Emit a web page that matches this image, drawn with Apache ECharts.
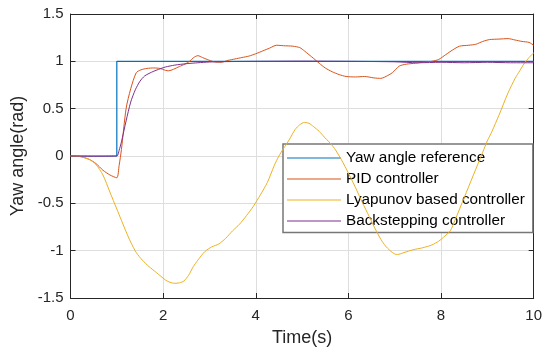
<!DOCTYPE html>
<html>
<head>
<meta charset="utf-8">
<script src="https://cdn.jsdelivr.net/npm/echarts@6/dist/echarts.min.js"></script>
<style>
html,body{margin:0;padding:0;background:#fff;}
#chart{width:545px;height:352px;}
</style>
</head>
<body>
<div id="chart"></div>
<script>
var seriesNames = ['Yaw angle reference', 'PID controller', 'Lyapunov based controller', 'Backstepping controller'];
var xTicks = [0, 2, 4, 6, 8, 10];
var yTicks = [-1.5, -1, -0.5, 0, 0.5, 1, 1.5];

var refData = [[0,0],[1,0],[1,1],[10,1]];

var pidData = [[0,0],[0.2,-0.005],[0.4,-0.035],[0.55,-0.08],[0.7,-0.15],[0.85,-0.2],[1.0,-0.23],[1.05,-0.1],[1.1,0.07],[1.2,0.5],[1.3,0.71],[1.42,0.88],[1.52,0.91],[1.65,0.925],[1.8,0.93],[1.93,0.925],[2.05,0.905],[2.12,0.9],[2.22,0.915],[2.35,0.945],[2.47,0.97],[2.57,1.0],[2.66,1.04],[2.75,1.06],[2.85,1.04],[2.95,1.02],[3.1,0.995],[3.25,0.99],[3.4,1.01],[3.55,1.025],[3.7,1.04],[3.85,1.055],[4.0,1.08],[4.15,1.11],[4.3,1.14],[4.45,1.17],[4.6,1.165],[4.8,1.16],[4.95,1.145],[5.05,1.11],[5.15,1.07],[5.25,1.03],[5.37,0.98],[5.5,0.93],[5.65,0.89],[5.8,0.86],[5.95,0.84],[6.15,0.835],[6.35,0.84],[6.55,0.825],[6.7,0.82],[6.85,0.85],[6.95,0.88],[7.1,0.95],[7.25,0.97],[7.45,0.98],[7.6,0.99],[7.8,1.0],[7.95,1.02],[8.1,1.07],[8.25,1.12],[8.4,1.16],[8.6,1.17],[8.75,1.18],[8.9,1.21],[9.05,1.23],[9.25,1.235],[9.45,1.24],[9.6,1.225],[9.75,1.21],[9.9,1.2],[10,1.17]];

var lyapData = [[0,0],[0.2,-0.005],[0.4,-0.035],[0.55,-0.09],[0.7,-0.2],[0.85,-0.38],[1.0,-0.56],[1.1,-0.68],[1.2,-0.8],[1.3,-0.91],[1.42,-1.02],[1.55,-1.1],[1.7,-1.17],[1.85,-1.23],[1.95,-1.27],[2.05,-1.31],[2.15,-1.335],[2.25,-1.345],[2.35,-1.34],[2.45,-1.32],[2.55,-1.26],[2.65,-1.17],[2.75,-1.1],[2.9,-1.01],[3.05,-0.96],[3.2,-0.93],[3.35,-0.87],[3.5,-0.79],[3.65,-0.72],[3.8,-0.63],[3.95,-0.53],[4.1,-0.41],[4.25,-0.28],[4.4,-0.1],[4.5,0.0],[4.6,0.08],[4.72,0.17],[4.85,0.28],[4.95,0.33],[5.05,0.355],[5.15,0.345],[5.25,0.31],[5.37,0.26],[5.48,0.2],[5.58,0.15],[5.7,0.08],[5.85,-0.04],[6.0,-0.18],[6.15,-0.33],[6.3,-0.49],[6.45,-0.64],[6.58,-0.77],[6.7,-0.88],[6.8,-0.95],[6.9,-1.0],[7.0,-1.035],[7.06,-1.04],[7.2,-1.02],[7.4,-0.99],[7.6,-0.97],[7.8,-0.94],[7.95,-0.9],[8.05,-0.86],[8.2,-0.79],[8.3,-0.68],[8.5,-0.44],[8.7,-0.2],[8.9,0.04],[9.0,0.16],[9.1,0.26],[9.25,0.43],[9.45,0.67],[9.6,0.82],[9.7,0.9],[9.8,0.98],[9.9,1.04],[10,1.09]];

var backData = [[0,0],[0.5,-0.003],[1.0,0],[1.05,0.06],[1.1,0.15],[1.2,0.37],[1.3,0.57],[1.4,0.7],[1.5,0.79],[1.6,0.845],[1.75,0.885],[1.9,0.915],[2.05,0.94],[2.25,0.96],[2.5,0.975],[2.75,0.985],[3.0,0.993],[3.5,0.998],[4.0,1.0],[5.0,1.002],[6.0,1.0],[7.0,0.995],[7.5,0.985],[8.0,0.99],[8.5,0.985],[9.0,0.99],[9.5,0.985],[10,0.985]];

var colors = ['#0072BD', '#D95319', '#EDB120', '#7E2F8E'];
var FONT = '"Liberation Sans", Arial, sans-serif';
var AX = '#262626';

var chart = echarts.init(document.getElementById('chart'), null, {renderer: 'canvas'});

function mkX(idx, pos, labels) {
  return {
    type: 'value', gridIndex: 0, position: pos,
    min: xTicks[0], max: xTicks[xTicks.length - 1], interval: xTicks[1] - xTicks[0],
    axisLine: {show: true, onZero: false, lineStyle: {color: AX, width: 1}},
    axisTick: {show: true, inside: true, length: 5, lineStyle: {color: AX}},
    axisLabel: {show: labels, margin: 10, color: AX, fontSize: 15, fontFamily: FONT},
    splitLine: {show: labels, lineStyle: {color: '#dedede', width: 1}},
    name: labels ? 'Time(s)' : '', nameLocation: 'middle', nameGap: 31,
    nameTextStyle: {color: AX, fontSize: 18, fontFamily: FONT}
  };
}
function mkY(idx, pos, labels) {
  return {
    type: 'value', gridIndex: 0, position: pos,
    min: yTicks[0], max: yTicks[yTicks.length - 1], interval: yTicks[1] - yTicks[0],
    axisLine: {show: true, onZero: false, lineStyle: {color: AX, width: 1}},
    axisTick: {show: true, inside: true, length: 5, lineStyle: {color: AX}},
    axisLabel: {show: labels, margin: 7, color: AX, fontSize: 15, fontFamily: FONT},
    splitLine: {show: labels, lineStyle: {color: '#dedede', width: 1}},
    name: labels ? 'Yaw angle(rad)' : '', nameLocation: 'middle', nameGap: 43,
    nameTextStyle: {color: AX, fontSize: 18, fontFamily: FONT}
  };
}

var dataSets = [refData, pidData, lyapData, backData];
var series = dataSets.map(function (d, i) {
  return {
    name: seriesNames[i], type: 'line', data: d, xAxisIndex: 0, yAxisIndex: 0,
    symbol: 'none', smooth: i === 0 ? false : 0.25,
    lineStyle: {color: colors[i], width: i === 0 ? 1.2 : 1},
    itemStyle: {color: colors[i]},
    z: 2 + i
  };
});

chart.setOption({
  animation: false,
  backgroundColor: '#ffffff',
  grid: {left: 70.5, right: 9.5, top: 14, bottom: 53, containLabel: false},
  xAxis: [mkX(0, 'bottom', true), mkX(1, 'top', false)],
  yAxis: [mkY(0, 'left', true), mkY(1, 'right', false)],
  legend: {
    orient: 'vertical', left: 283, top: 144,
    data: seriesNames,
    icon: 'rect',
    itemWidth: 54, itemHeight: 1.2, itemGap: 6,
    padding: [6.5, 8, 4, 4],
    backgroundColor: '#ffffff', borderColor: '#777777', borderWidth: 1.5,
    textStyle: {color: '#000', fontSize: 15.3, fontFamily: FONT},
    selectedMode: false
  },
  series: series
});
</script>
</body>
</html>
